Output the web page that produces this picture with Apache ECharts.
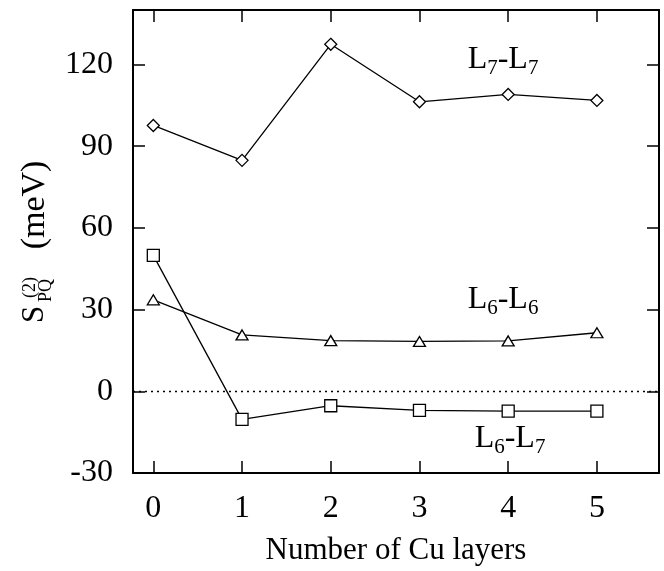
<!DOCTYPE html>
<html>
<head>
<meta charset="utf-8">
<script src="https://cdn.jsdelivr.net/npm/echarts@6/dist/echarts.min.js"></script>
<style>html,body{margin:0;padding:0;background:#fff;}#c{width:664px;height:571px;}</style>
</head>
<body>
<div id="c"></div>
<script>
var xLayers = [0, 1, 2, 3, 4, 5];
var l7l7 = [97.6, 84.8, 127.4, 106.3, 109.0, 106.8];
var l6l6 = [33.6, 20.7, 18.6, 18.3, 18.5, 21.5];
var l6l7 = [49.9, -10.3, -5.3, -7.0, -7.3, -7.3];
var xTicks = [0, 1, 2, 3, 4, 5];
var yTicks = [-30, 0, 30, 60, 90, 120];

var FONT = '"Liberation Serif", "DejaVu Serif", serif';
function pairs(ys) { return xLayers.map(function (x, i) { return [x, ys[i]]; }); }

var chart = echarts.init(document.getElementById('c'));
var axisCommon = {
  axisLine: { show: true, onZero: false, lineStyle: { color: '#000', width: 2 } },
  axisTick: { show: true, inside: true, length: 12, lineStyle: { color: '#000', width: 1.5 } },
  splitLine: { show: false }
};
function xa(pos, showLabel) {
  return Object.assign({}, axisCommon, {
    type: 'value', position: pos, min: -0.229, max: 5.70,
    axisTick: Object.assign({}, axisCommon.axisTick, { customValues: xTicks }),
    axisLabel: { show: showLabel, customValues: xTicks, margin: 20, color: '#000', fontFamily: FONT, fontSize: 32 },
    name: showLabel ? 'Number of Cu layers' : '', nameLocation: 'middle', nameGap: 62,
    nameTextStyle: { color: '#000', fontFamily: FONT, fontSize: 31 }
  });
}
function ya(pos, showLabel) {
  return Object.assign({}, axisCommon, {
    type: 'value', position: pos, min: -30, max: 140,
    axisTick: Object.assign({}, axisCommon.axisTick, { customValues: yTicks }),
    axisLabel: { show: showLabel, customValues: yTicks, margin: 20, color: '#000', fontFamily: FONT, fontSize: 32 }
  });
}
var rich = {
  a: { fontFamily: FONT, fontSize: 32, color: '#000', lineHeight: 38, verticalAlign: 'middle' },
  s: { fontFamily: FONT, fontSize: 21, color: '#000', lineHeight: 21, verticalAlign: 'bottom' }
};
function series(name, data, sym, size) {
  return {
    name: name, type: 'line', data: pairs(data), symbol: sym, symbolSize: size,
    showAllSymbol: true, animation: false,
    lineStyle: { color: '#000', width: 1.3 },
    itemStyle: { color: '#fff', borderColor: '#000', borderWidth: 1.3 },
    z: 3
  };
}
var s3 = series('L6-L7', l6l7, 'rect', 12);
s3.markLine = {
  silent: true, symbol: 'none', label: { show: false }, animation: false,
  lineStyle: { color: '#000', type: [2, 4], width: 1.3 },
  data: [{ yAxis: 0 }]
};
chart.setOption({
  animation: false,
  grid: { left: 133, right: 5, top: 10, bottom: 98 },
  xAxis: [xa('bottom', true), xa('top', false)],
  yAxis: [ya('left', true), ya('right', false)],
  series: [
    series('L7-L7', l7l7, 'diamond', 12),
    series('L6-L6', l6l6, 'triangle', [12, 10]),
    s3
  ],
  graphic: [
    { type: 'text', x: 503, y: 60, style: { text: '{a|L}{s|7}{a|-L}{s|7}', rich: rich, align: 'center', verticalAlign: 'middle' } },
    { type: 'text', x: 503, y: 300, style: { text: '{a|L}{s|6}{a|-L}{s|6}', rich: rich, align: 'center', verticalAlign: 'middle' } },
    { type: 'text', x: 510, y: 439, style: { text: '{a|L}{s|6}{a|-L}{s|7}', rich: rich, align: 'center', verticalAlign: 'middle' } },
    {
      type: 'group', x: 35, y: 323, rotation: Math.PI / 2,
      children: [
        { type: 'text', x: 0, y: 0, style: { text: 'S', font: '31px ' + FONT, fill: '#000', align: 'left', verticalAlign: 'middle' } },
        { type: 'text', x: 25, y: -5, style: { text: '(2)', font: '18px ' + FONT, fill: '#000', align: 'left', verticalAlign: 'middle' } },
        { type: 'text', x: 21, y: 11, style: { text: 'PQ', font: '18px ' + FONT, fill: '#000', align: 'left', verticalAlign: 'middle' } },
        { type: 'text', x: 118, y: 0, style: { text: '(meV)', font: '34px ' + FONT, fill: '#000', align: 'center', verticalAlign: 'middle' } }
      ]
    }
  ]
});
</script>
</body>
</html>
